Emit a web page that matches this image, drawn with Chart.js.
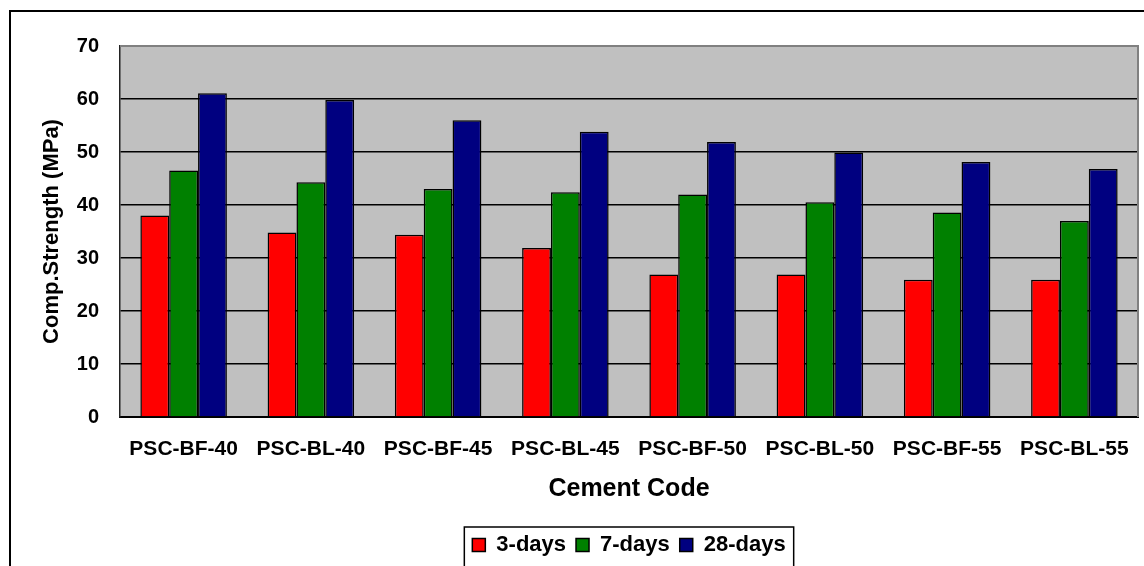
<!DOCTYPE html>
<html>
<head>
<meta charset="utf-8">
<title>Compressive strength by cement code</title>
<script src="https://cdn.jsdelivr.net/npm/chart.js@4/dist/chart.umd.min.js"></script>
<style>
  html, body { margin: 0; padding: 0; background: #fff; }
  canvas { display: block; }
</style>
</head>
<body>
<canvas id="c" width="1144" height="566"></canvas>
<script>
// Cement codes along the x axis
const categories = ['PSC-BF-40', 'PSC-BL-40', 'PSC-BF-45', 'PSC-BL-45', 'PSC-BF-50', 'PSC-BL-50', 'PSC-BF-55', 'PSC-BL-55'];

// Compressive strength (MPa) at each curing age
const days3  = [38, 34.8, 34.4, 31.9, 26.9, 26.9, 25.9, 25.9];
const days7  = [46.5, 44.3, 43.0, 42.4, 42.0, 40.5, 38.6, 37.0];
const days28 = [61.1, 59.8, 56.0, 53.8, 51.9, 49.9, 48.1, 46.8];

// Value axis ticks
const yTicks = [0, 10, 20, 30, 40, 50, 60, 70];

const FONT = '"Liberation Sans", Arial, Helvetica, sans-serif';

// White page, outer frame, grey plot background
const backdrop = {
  id: 'backdrop',
  beforeDraw(chart) {
    const { ctx, chartArea: a } = chart;
    ctx.save();
    ctx.fillStyle = '#ffffff';
    ctx.fillRect(0, 0, chart.width, chart.height);
    ctx.strokeStyle = '#000000';
    ctx.lineWidth = 2;
    ctx.strokeRect(10, 11, chart.width + 20, chart.height + 20);
    ctx.fillStyle = '#C0C0C0';
    ctx.fillRect(a.left, a.top, a.right - a.left, a.bottom - a.top);
    ctx.restore();
  },
  afterDatasetsDraw(chart) {
    const { ctx, chartArea: a } = chart;
    ctx.save();
    ctx.strokeStyle = '#808080';
    ctx.lineWidth = 2;
    ctx.beginPath();
    ctx.moveTo(a.left, a.top);
    ctx.lineTo(a.right, a.top);
    ctx.lineTo(a.right, a.bottom);
    ctx.stroke();
    ctx.restore();
  }
};

// Box around the legend entries
const legendFrame = {
  id: 'legendFrame',
  afterDraw(chart) {
    const lg = chart.legend;
    if (!lg || !lg.legendHitBoxes || !lg.legendHitBoxes.length) return;
    const boxes = lg.legendHitBoxes;
    const first = boxes[0];
    const last = boxes[boxes.length - 1];
    const left = first.left - 8;
    const right = last.left + last.width + 8;
    const top = lg.top + 3;
    const ctx = chart.ctx;
    ctx.save();
    ctx.strokeStyle = '#000000';
    ctx.lineWidth = 1.5;
    ctx.strokeRect(left, top, right - left, chart.height + 20 - top);
    ctx.restore();
  }
};

new Chart(document.getElementById('c'), {
  type: 'bar',
  data: {
    labels: categories,
    datasets: [
      { label: '3-days',  data: days3,  backgroundColor: '#FF0000', borderColor: '#000000', borderWidth: 1.5 },
      { label: '7-days',  data: days7,  backgroundColor: '#008000', borderColor: '#000000', borderWidth: 1.5 },
      { label: '28-days', data: days28, backgroundColor: '#000080', borderColor: '#000000', borderWidth: 1.5 }
    ]
  },
  options: {
    responsive: false,
    devicePixelRatio: 1,
    animation: false,
    layout: { padding: { left: 9, top: 46, right: 6, bottom: 0 } },
    datasets: { bar: { categoryPercentage: 0.68, barPercentage: 1.0 } },
    scales: {
      x: {
        grid: { display: false, drawTicks: false },
        border: { display: true, color: '#000000', width: 2 },
        ticks: { color: '#000000', padding: 20, font: { family: FONT, size: 21, weight: 'bold' } },
        title: {
          display: true,
          text: 'Cement Code',
          color: '#000000',
          font: { family: FONT, size: 25, weight: 'bold' },
          padding: { top: 0, bottom: 20 }
        },
        afterFit(scale) {
          scale.height = 107;
          scale.paddingLeft = 0;
          scale.paddingRight = 0;
        }
      },
      y: {
        min: 0,
        max: 70,
        afterBuildTicks(scale) { scale.ticks = yTicks.map(v => ({ value: v })); },
        grid: {
          drawTicks: false,
          color: (c) => (c.tick && c.tick.value === 70 ? 'rgba(0,0,0,0)' : '#000000'),
          lineWidth: 1.5
        },
        border: { display: true, color: '#222222', width: 1.5 },
        ticks: { color: '#000000', padding: 21, font: { family: FONT, size: 20, weight: 'bold' } },
        title: {
          display: true,
          text: 'Comp.Strength (MPa)',
          color: '#000000',
          font: { family: FONT, size: 22, weight: 'bold' },
          padding: { top: 30, bottom: 0 }
        },
        afterFit(scale) {
          scale.width = 111;
          scale.paddingTop = 0;
          scale.paddingBottom = 0;
        }
      }
    },
    plugins: {
      legend: {
        position: 'bottom',
        fullSize: false,
        labels: {
          color: '#000000',
          boxWidth: 13,
          boxHeight: 13,
          padding: 10,
          font: { family: FONT, size: 22, weight: 'bold' }
        }
      },
      tooltip: { enabled: false }
    }
  },
  plugins: [backdrop, legendFrame]
});
</script>
</body>
</html>
